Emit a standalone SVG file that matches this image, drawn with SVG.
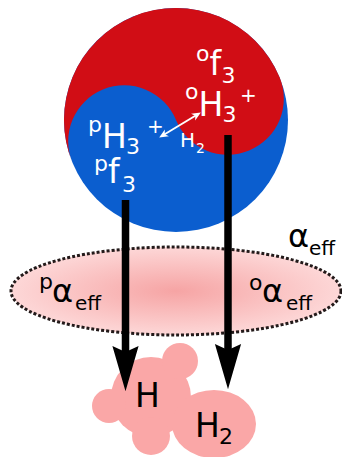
<svg xmlns="http://www.w3.org/2000/svg" width="342" height="457" viewBox="0 0 342 457">
<style>
text{font-family:"DejaVu Sans",Verdana,sans-serif}
.w{fill:#fff}
.k{fill:#000}
.big{font-size:33px}
.sm{font-size:22px}
.ef{font-size:20px}
.blob{fill:#faa7a7}
</style>
<defs>
<radialGradient id="pinkGrad" cx="0.5" cy="0.5" r="0.5">
<stop offset="0" stop-color="#f6a4a4"/>
<stop offset="1" stop-color="#fdd7d7"/>
</radialGradient>
<marker id="bigHead" markerUnits="userSpaceOnUse" orient="auto" markerWidth="50" markerHeight="30" viewBox="-6 -12 42 24" refX="0" refY="0" overflow="visible">
<path d="M33,0 L-5,-11 L0,0 L-5,11 Z" fill="#000"/>
</marker>
<marker id="smallHead" markerUnits="userSpaceOnUse" orient="auto-start-reverse" markerWidth="12" markerHeight="10" viewBox="-6 -5 10 10" refX="0" refY="0" overflow="visible">
<path d="M4,0 L-5,-4 L-2.5,0 L-5,4 Z" fill="#fff"/>
</marker>
</defs>

<g id="yinyang">
<circle cx="176" cy="120" r="112" fill="#0b5ecf"/>
<path d="M72.4,162.65 A112,112 0 0 1 279.6,77.35 A56,56 0 0 1 176,120 A56,56 0 0 0 72.4,162.65 Z" fill="#d10d15"/>
<text class="w"><tspan class="sm" x="196" y="61">o</tspan><tspan class="big" x="209.5" y="75">f</tspan><tspan class="sm" x="221.5" y="83">3</tspan></text>
<text class="w"><tspan class="sm" x="185" y="99">o</tspan><tspan class="big" x="198.5" y="116">H</tspan><tspan class="sm" x="222.5" y="122">3</tspan><tspan class="ef" x="240" y="102">+</tspan></text>
<text class="w"><tspan class="sm" x="88" y="132">p</tspan><tspan class="big" x="102" y="148">H</tspan><tspan class="sm" x="126" y="154">3</tspan><tspan class="ef" x="147" y="133">+</tspan></text>
<text class="w"><tspan class="sm" x="94" y="171">p</tspan><tspan class="big" x="108" y="183">f</tspan><tspan class="sm" x="122" y="192">3</tspan></text>
<text class="w"><tspan x="180" y="147" font-size="20">H</tspan><tspan x="196" y="153" font-size="14">2</tspan></text>
</g>

<g id="alpha-zone">
<ellipse cx="176" cy="291" rx="165" ry="44" fill="url(#pinkGrad)" stroke="#231a1a" stroke-width="3" stroke-dasharray="3 2"/>
<text class="k"><tspan font-size="32" x="288" y="247">α</tspan><tspan class="ef" x="309" y="255">eff</tspan></text>
<text class="k"><tspan class="sm" x="39" y="289">p</tspan><tspan font-size="32" x="52" y="302">α</tspan><tspan class="ef" x="75" y="310">eff</tspan></text>
<text class="k"><tspan class="sm" x="249" y="290">o</tspan><tspan font-size="32" x="262" y="302">α</tspan><tspan class="ef" x="286" y="310">eff</tspan></text>
</g>

<g id="H">
<circle class="blob" cx="151" cy="397" r="40"/>
<circle class="blob" cx="180" cy="361" r="18"/>
<circle class="blob" cx="109" cy="406" r="17"/>
<circle class="blob" cx="151" cy="436" r="19"/>
<text class="k" x="135" y="407" font-size="33">H</text>
</g>

<g id="H2">
<ellipse class="blob" cx="214" cy="424" rx="42" ry="34"/>
<text class="k"><tspan x="195" y="437" font-size="33">H</tspan><tspan class="sm" x="219" y="444">2</tspan></text>
</g>

<g id="connectors">
<line x1="125.5" y1="200" x2="125.5" y2="352" stroke="#000" stroke-width="7.5" marker-end="url(#bigHead)"/>
<line x1="228" y1="135" x2="228" y2="350" stroke="#000" stroke-width="7.5" marker-end="url(#bigHead)"/>
<line x1="162.6" y1="135.5" x2="197.4" y2="114.5" stroke="#fff" stroke-width="2" marker-start="url(#smallHead)" marker-end="url(#smallHead)"/>
</g>
</svg>
